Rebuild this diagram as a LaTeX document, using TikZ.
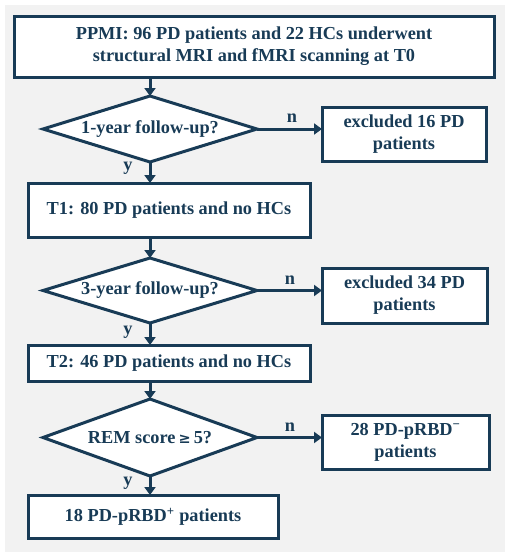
\documentclass[tikz,border=0pt]{standalone}
\usepackage{fontspec}
\setmainfont{Liberation Serif}
\usetikzlibrary{shapes.geometric,arrows.meta}
\definecolor{navy}{HTML}{183B56}
\definecolor{bg}{HTML}{F2F2F2}
\tikzset{
  box/.style={draw=navy, line width=3pt, fill=white, inner sep=0pt, outer sep=0pt, align=center, text=navy, font=\bfseries\fontsize{18.3}{22}\selectfont},
  dec/.style={diamond, draw=navy, line width=3pt, fill=white, inner sep=0pt, outer sep=0pt},
  dectext/.style={text=navy, font=\bfseries\fontsize{18.3}{22}\selectfont},
  flow/.style={draw=navy, line width=3pt, -{Triangle[length=8pt,width=11pt]}},
  yn/.style={text=navy, font=\bfseries\fontsize{18.3}{20}\selectfont, inner sep=0pt}
}
\begin{document}
\begin{tikzpicture}[x=1pt,y=1pt]
\useasboundingbox (0,0) rectangle (510,-558);
\fill[bg] (5,-5) rectangle (505,-552);
% nodes
\node[box, minimum width=480pt, minimum height=61pt] (b0) at (254,-46.5) {PPMI: 96 PD patients and 22 HCs underwent\\structural MRI and fMRI scanning at T0};
\node[dec, minimum width=214pt, minimum height=66pt] (d1) at (150,-129) {};
\node[dectext] (d1t) at (d1.center) {1-year follow-up?};
\node[box, minimum width=164pt, minimum height=54pt] (ex1) at (404,-134) {excluded 16 PD\\patients};
\node[box, minimum width=282pt, minimum height=54pt] (t1) at (169,-210) {T1: 80 PD patients and no HCs};
\node[dec, minimum width=214pt, minimum height=65pt] (d2) at (150,-290.5) {};
\node[dectext] (d2t) at (d2.center) {3-year follow-up?};
\node[box, minimum width=165pt, minimum height=55pt] (ex2) at (404.5,-295.5) {excluded 34 PD\\patients};
\node[box, minimum width=282pt, minimum height=36pt] (t2) at (169,-363) {T2: 46 PD patients and no HCs};
\node[dec, minimum width=214pt, minimum height=77pt] (d3) at (150,-437.5) {};
\node[dectext] (d3t) at (d3.center) {REM score\,{\fontspec{DejaVu Serif}\bfseries\fontsize{14.5}{16}\selectfont≥}\,5?};
\node[box, minimum width=167pt, minimum height=54pt] (ex3) at (405.5,-442) {28 PD-pRBD\textsuperscript{−}\\patients};
\node[box, minimum width=250pt, minimum height=43pt] (fin) at (153,-516.5) {18 PD-pRBD\textsuperscript{+} patients};
% connectors
\draw[flow] (d1.north |- b0.south) -- (d1.north);
\draw[flow] (d1.south) -- (d1.south |- t1.north);
\draw[flow] (d1.east) -- (ex1.west |- d1.east);
\draw[flow] (d2.north |- t1.south) -- (d2.north);
\draw[flow] (d2.south) -- (d2.south |- t2.north);
\draw[flow] (d2.east) -- (ex2.west |- d2.east);
\draw[flow] (d3.north |- t2.south) -- (d3.north);
\draw[flow] (d3.south) -- (d3.south |- fin.north);
\draw[flow] (d3.east) -- (ex3.west |- d3.east);
% labels
\node[yn] (n1) at (292,-118) {n};
\node[yn] (y1) at (128,-168) {y};
\node[yn] (n2) at (290,-280) {n};
\node[yn] (y2) at (128,-332) {y};
\node[yn] (n3) at (290,-427) {n};
\node[yn] (y3) at (128,-483) {y};
\end{tikzpicture}
\end{document}
